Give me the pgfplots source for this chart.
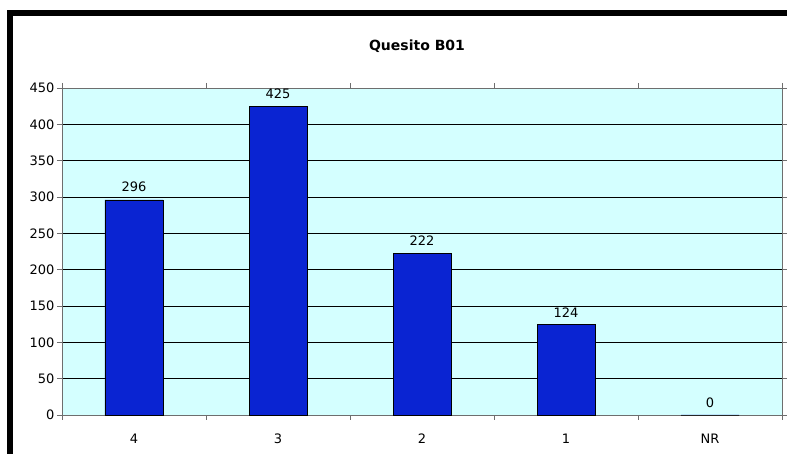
\documentclass[border=0pt]{standalone}
\usepackage{fontspec}
\setmainfont{DejaVu Sans}
\usepackage{pgfplots}
\pgfplotsset{compat=1.18}
\definecolor{barblue}{RGB}{10,36,210}
\definecolor{plotbg}{RGB}{212,255,255}
\definecolor{axgray}{RGB}{110,110,110}
\begin{document}
\begin{tikzpicture}
\begin{axis}[
  name=ax,
  anchor=south west,
  scale only axis, width=720pt, height=327pt,
  xmin=-0.5, xmax=4.5, ymin=0, ymax=450,
  axis background/.style={fill=plotbg},
  axis line style={axgray, line width=0.8pt},
  xtick={0,1,2,3,4},
  xticklabels={4,3,2,1,NR},
  major x tick style={draw=none},
  minor xtick={-0.5,0.5,1.5,2.5,3.5,4.5},
  minor x tick style={axgray, line width=0.8pt},
  minor tick length=5pt,
  ytick distance=50,
  major tick length=5pt,
  tick align=outside,
  y tick style={axgray, line width=0.8pt},
  ymajorgrids,
  major grid style={black, line width=0.7pt},
  tick label style={font=\fontsize{13}{15}\selectfont},
  yticklabel style={xshift=1pt},
  /pgf/number format/assume math mode=true,
  xticklabel style={yshift=-10pt},
  ybar, bar width=58pt,
  nodes near coords,
  nodes near coords style={font=\fontsize{13}{15}\selectfont, yshift=4pt},
  clip=false,
]
\addplot[fill=barblue, draw=black, line width=0.8pt] coordinates {(0,296) (1,425) (2,222) (3,124) (4,0)};
\end{axis}
\begin{scope}[shift={(ax.south west)}, x=1pt, y=1pt]
\pgfresetboundingbox
\useasboundingbox (-62,-39) rectangle (725,415);
\fill[black] (-55,-39) rectangle (-49,405);
\fill[black] (-55,399) rectangle (725,405);
\node[font=\fontsize{14}{16}\selectfont\bfseries] at (355,369) {Quesito B01};
\end{scope}
\end{tikzpicture}
\end{document}
